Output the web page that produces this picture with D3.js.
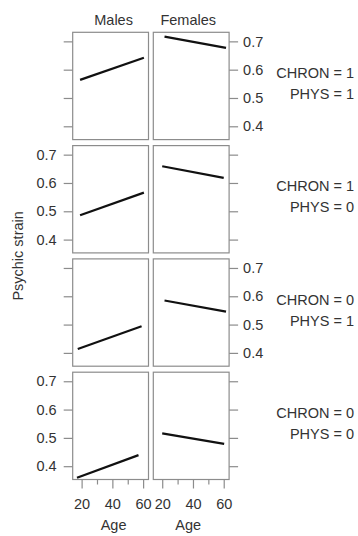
<!DOCTYPE html>
<html>
<head>
<meta charset="utf-8">
<script src="https://cdn.jsdelivr.net/npm/d3@7"></script>
<style>
  body { margin: 0; background: #fff; }
  text { font-family: "Liberation Sans", Arial, sans-serif; fill: #333; }
</style>
</head>
<body>
<script>
// panel data, one entry per row (top to bottom)
const sexes = ["Males", "Females"];
const chronLevels = [1, 1, 0, 0];
const physLevels = [1, 0, 1, 0];
const maleAge = [[19, 60.5], [19, 60.5], [17.5, 59], [17, 57]];
const maleStrain = [[0.564, 0.642], [0.486, 0.566], [0.414, 0.494], [0.359, 0.439]];
const femaleAge = [[21.5, 61.5], [20, 60], [21.5, 61.5], [20, 60.3]];
const femaleStrain = [[0.717, 0.677], [0.659, 0.618], [0.585, 0.546], [0.516, 0.479]];
const yTicks = [0.4, 0.5, 0.6, 0.7];
const xMajor = [20, 40, 60];
const xMinor = [30, 50];

const W = 358, H = 536;
const padLeft = 72.7, padTop = 32.3;
const pw = 75.8, ph = 107.3, gx = 4.8, gy = 6;
const fs = "14.5px";

const svg = d3.select("body").append("svg")
  .attr("width", W)
  .attr("height", H);

const x = d3.scaleLinear().domain([14.2, 63.5]).range([0, pw]);
const y = d3.scaleLinear().domain([0.353, 0.732]).range([ph, 0]);

const ages = [maleAge, femaleAge];
const strains = [maleStrain, femaleStrain];
const line = d3.line().x(d => x(d[0])).y(d => y(d[1]));

for (let r = 0; r < 4; r++) {
  for (let c = 0; c < 2; c++) {
    const g = svg.append("g")
      .attr("transform", `translate(${padLeft + c * (pw + gx)},${padTop + r * (ph + gy)})`);

    const pts = ages[c][r].map((a, i) => [a, strains[c][r][i]]);
    g.append("path")
      .datum(pts)
      .attr("d", line)
      .attr("fill", "none")
      .attr("stroke", "#111")
      .attr("stroke-width", 2.2);

    g.append("rect")
      .attr("width", pw).attr("height", ph)
      .attr("fill", "none")
      .attr("stroke", "#8c8c8c")
      .attr("stroke-width", 1.2);

    // y axes: left column on the left, right column on the right
    const labelled = (c === 0) ? (r % 2 === 1) : (r % 2 === 0);
    const ax = (c === 0 ? d3.axisLeft(y) : d3.axisRight(y))
      .tickValues(yTicks)
      .tickSize(9)
      .tickPadding(c === 0 ? 7 : 5)
      .tickFormat(labelled ? d3.format(".1f") : () => "");
    const ag = g.append("g")
      .attr("transform", c === 0 ? "translate(0,0)" : `translate(${pw},0)`)
      .call(ax);
    ag.select(".domain").remove();
    ag.selectAll("line").attr("stroke", "#8c8c8c").attr("stroke-width", 1.2);
    ag.selectAll("text").style("font-size", fs).attr("fill", "#333");

    if (r === 3) {
      const xa = g.append("g").attr("transform", `translate(0,${ph})`)
        .call(d3.axisBottom(x).tickValues(xMajor).tickSize(9).tickPadding(10));
      const xm = g.append("g").attr("transform", `translate(0,${ph})`)
        .call(d3.axisBottom(x).tickValues(xMinor).tickSize(5).tickFormat(() => ""));
      [xa, xm].forEach(a => {
        a.select(".domain").remove();
        a.selectAll("line").attr("stroke", "#8c8c8c").attr("stroke-width", 1.2);
        a.selectAll("text").style("font-size", fs).attr("fill", "#333");
      });
      g.append("text")
        .attr("x", pw / 2 + (c === 0 ? 3 : -3))
        .attr("y", ph + 51)
        .attr("text-anchor", "middle")
        .style("font-size", fs)
        .text("Age");
    }
    if (r === 0) {
      g.append("text")
        .attr("x", pw / 2 + (c === 0 ? 3 : -3))
        .attr("y", -7)
        .attr("text-anchor", "middle")
        .style("font-size", fs)
        .text(sexes[c]);
    }
  }

  // condition labels on the right
  const cy = padTop + r * (ph + gy) + ph / 2;
  const lab = svg.append("g").attr("transform", `translate(354,${cy})`);
  lab.append("text").attr("text-anchor", "end").attr("y", -8)
    .style("font-size", fs).text("CHRON = " + chronLevels[r]);
  lab.append("text").attr("text-anchor", "end").attr("y", 13)
    .style("font-size", fs).text("PHYS = " + physLevels[r]);
}

svg.append("text")
  .attr("transform", `translate(23,${padTop + (4 * ph + 3 * gy) / 2}) rotate(-90)`)
  .attr("text-anchor", "middle")
  .style("font-size", fs)
  .text("Psychic strain");
</script>
</body>
</html>
